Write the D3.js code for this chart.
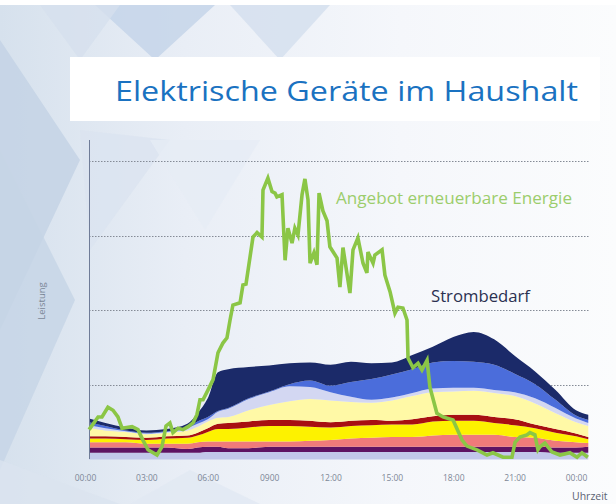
<!DOCTYPE html>
<meta charset="utf-8">
<style>
  body { margin: 0; background: #f3f6fa; overflow: hidden; }
  svg { display: block; font-family: "Open Sans", sans-serif; }
  .grid line { stroke: #858b96; stroke-dasharray: 1.5,1.5; }
  .xaxis text { fill: #7d8797; font-size: 8.5px; }
</style>
<body>
<svg width="616" height="504"></svg>
<script src="https://d3js.org/d3.v7.min.js"></script>
<script>
// Stunden (x) fuer die gestapelten Verbraucher
const hours = [0.2, 1, 2, 3, 4, 5, 5.5, 6, 6.5, 7, 8, 9, 10, 11, 12, 13, 14, 15, 16, 17, 18, 19, 20, 21, 22, 23, 24, 24.6];

// Strombedarf je Schicht (W), von unten nach oben
const standby     = [9, 9, 9, 9, 9, 9, 9, 10, 10, 10, 10, 10, 10, 10, 10, 10, 10, 10, 10, 10, 10, 10, 10, 10, 10, 9, 9, 9];
const kuehlen     = [7, 7, 7, 7, 7, 5, 7, 7, 7, 5, 5, 7, 7, 7, 7, 7, 7, 7, 7, 7, 7, 7, 7, 7, 7, 7, 7, 8];
const waschen     = [7, 7, 7, 5, 5, 7, 7, 7, 7, 9, 9, 7, 7, 8, 9, 11, 12, 13, 13, 15, 16, 16, 16, 13, 12, 9, 7, 5];
const kochen      = [5, 5, 4, 5, 7, 8, 9, 13, 17, 17, 19, 21, 21, 19, 17, 17, 17, 17, 17, 19, 19, 19, 16, 16, 13, 11, 8, 5];
const spuelen     = [3, 3, 3, 3, 3, 3, 4, 5, 7, 8, 8, 8, 8, 8, 7, 7, 7, 5, 7, 7, 8, 8, 8, 8, 5, 5, 4, 3];
const beleuchtung = [12, 8, 7, 5, 5, 7, 8, 9, 8, 8, 15, 20, 25, 29, 29, 25, 23, 27, 31, 32, 31, 32, 32, 31, 28, 21, 15, 15];
const warmwasser  = [3, 3, 1, 1, 1, 3, 4, 3, 8, 11, 15, 17, 20, 16, 11, 7, 4, 4, 4, 5, 5, 4, 4, 5, 7, 7, 5, 4];
const unterhaltung= [4, 3, 1, 1, 1, 1, 3, 3, 1, 1, 1, 1, 3, 9, 9, 20, 28, 31, 32, 35, 36, 35, 34, 25, 19, 11, 4, 4];
const sonstiges   = [5, 4, 4, 3, 3, 5, 11, 25, 52, 52, 42, 35, 28, 24, 28, 27, 21, 16, 19, 21, 32, 40, 34, 24, 17, 13, 7, 7];

const layerKeys = ["standby", "kuehlen", "waschen", "kochen", "spuelen", "beleuchtung", "warmwasser", "unterhaltung", "sonstiges"];
const layerColors = ["#c2c7ea", "#5e1263", "#f07a7a", "#fdf200", "#a80f12", "#fff9a6", "#d3d7f2", "#4b6ddb", "#1b2a69"];

// Angebot erneuerbare Energie: [Stunde, W]
const renewHours = [0.20, 0.64, 0.83, 1.12, 1.37, 1.61, 1.81, 2.30, 2.59, 2.83, 3.08, 3.52, 3.76, 3.96, 4.15, 4.30, 4.55, 4.79, 5.04, 5.28, 5.47, 5.62, 5.77, 6.01, 6.26, 6.50, 6.74, 6.94, 7.09, 7.23, 7.58, 7.72, 7.87, 8.21, 8.41, 8.65, 8.70, 8.94, 9.14, 9.29, 9.38, 9.63, 9.78, 9.92, 10.12, 10.26, 10.41, 10.61, 10.75, 10.90, 11.00, 11.19, 11.34, 11.44, 11.63, 11.83, 11.97, 12.32, 12.46, 12.61, 12.95, 13.10, 13.34, 13.59, 13.78, 13.83, 14.08, 14.17, 14.52, 14.66, 14.91, 15.15, 15.30, 15.54, 15.74, 15.79, 16.03, 16.28, 16.47, 16.72, 16.86, 17.20, 17.50, 17.99, 18.43, 18.67, 19.16, 19.65, 19.94, 20.43, 20.87, 21.02, 21.26, 21.60, 21.75, 21.99, 22.14, 22.24, 22.48, 22.83, 23.22, 23.70, 24.05, 24.29, 24.58];
const renewValues = [40, 57, 57, 70, 66, 57, 42, 44, 40, 26, 13, 6, 17, 45, 49, 36, 42, 40, 44, 49, 60, 80, 80, 93, 107, 143, 156, 163, 187, 207, 210, 234, 235, 298, 304, 298, 361, 377, 359, 357, 352, 355, 267, 310, 290, 310, 301, 355, 376, 348, 263, 277, 261, 357, 333, 320, 285, 270, 231, 284, 223, 281, 297, 263, 250, 278, 263, 274, 281, 247, 225, 196, 204, 203, 187, 136, 123, 129, 120, 133, 97, 62, 57, 53, 26, 18, 13, 6, 9, 3, 3, 23, 30, 33, 36, 33, 13, 17, 22, 10, 6, 9, 3, 9, 3];

const tickHours = [0, 3, 6, 9, 12, 15, 18, 21, 24];
const tickLabels = ["00:00", "03:00", "06:00", "0900", "12:00", "15:00", "18:00", "21:00", "00:00"];
const gridValues = [100, 200, 300, 400];

const svg = d3.select("svg");

// Hintergrund: Verlauf + Rautenmuster
const grad = svg.append("defs").append("linearGradient").attr("id", "bgGrad")
  .attr("x1", 0).attr("x2", 1).attr("y1", 0).attr("y2", 0);
grad.append("stop").attr("offset", 0).attr("stop-color", "#d6e1ed");
grad.append("stop").attr("offset", 0.3).attr("stop-color", "#e9eef6");
grad.append("stop").attr("offset", 0.65).attr("stop-color", "#f5f7fb");
grad.append("stop").attr("offset", 1).attr("stop-color", "#fbfcfd");

const bg = svg.append("g");
bg.append("rect").attr("width", 616).attr("height", 504).attr("fill", "url(#bgGrad)");
const shapes = [
  [[0,40],[80,160],[0,330]],
  [[0,150],[75,300],[0,470]],
  [[95,5],[215,5],[155,60]],
  [[230,5],[330,5],[280,60]],
  [[40,5],[120,5],[80,60]],
  [[80,130],[170,140],[90,250]],
  [[0,460],[120,504],[0,504]],
  [[190,470],[260,504],[130,504]],
  [[150,140],[260,140],[205,230]]
];
const shapeFill = ["#c3d2e5", "#c6d4e6", "#c3d3e8", "#d3dfed", "#d6e0ee", "#dbe4f0", "#dbe4ef", "#e1e8f2", "#e6ecf5"];
bg.selectAll("polygon").data(shapes).join("polygon")
  .attr("points", d => d.map(p => p.join(",")).join(" "))
  .attr("fill", (d, i) => shapeFill[i])
  .attr("opacity", 0.8);
bg.append("rect").attr("width", 616).attr("height", 5).attr("fill", "#ffffff");

// Titelbox
svg.append("rect").attr("x", 70).attr("y", 57).attr("width", 530).attr("height", 64).attr("fill", "#ffffff");
svg.append("text").attr("x", 115).attr("y", 101)
  .attr("font-size", 28).attr("fill", "#1a72c1")
  .attr("textLength", 463).attr("lengthAdjust", "spacingAndGlyphs")
  .text("Elektrische Geräte im Haushalt");

const x = d3.scaleLinear().domain([0, 24]).range([85, 576]);
const y = d3.scaleLinear().domain([0, 400]).range([459.5, 161]);

// Gitterlinien
svg.append("g").attr("class", "grid")
  .selectAll("line").data(gridValues).join("line")
  .attr("x1", 89).attr("x2", 590)
  .attr("y1", d => Math.round(y(d)) + 0.5).attr("y2", d => Math.round(y(d)) + 0.5);

// gestapelte Flaechen
const rows = hours.map((h, i) => ({
  h: h,
  standby: standby[i], kuehlen: kuehlen[i], waschen: waschen[i], kochen: kochen[i],
  spuelen: spuelen[i], beleuchtung: beleuchtung[i], warmwasser: warmwasser[i],
  unterhaltung: unterhaltung[i], sonstiges: sonstiges[i]
}));
const series = d3.stack().keys(layerKeys)(rows);
const area = d3.area()
  .x(d => x(d.data.h))
  .y0(d => y(d[0]))
  .y1(d => y(d[1]))
  .curve(d3.curveMonotoneX);
svg.append("g").selectAll("path").data(series).join("path")
  .attr("d", area)
  .attr("fill", (d, i) => layerColors[i]);

// y-Achse
svg.append("line").attr("x1", 89.5).attr("x2", 89.5).attr("y1", 140).attr("y2", 459)
  .attr("stroke", "#6f7c98").attr("stroke-width", 1);

// Angebot erneuerbare Energie
const line = d3.line().x((d, i) => x(renewHours[i])).y(d => y(d));
svg.append("path").datum(renewValues)
  .attr("d", line)
  .attr("fill", "none")
  .attr("stroke", "#8bc646")
  .attr("stroke-width", 3.6)
  .attr("stroke-linejoin", "miter");

// x-Achse
const xAxis = d3.axisBottom(x).tickValues(tickHours).tickSize(0)
  .tickFormat((d, i) => tickLabels[i]);
svg.append("g").attr("class", "xaxis")
  .attr("transform", "translate(0,472)")
  .call(xAxis)
  .call(g => g.select(".domain").remove())
  .selectAll("text").attr("font-family", "Open Sans");

// Beschriftungen
svg.append("text").attr("transform", "translate(45,301) rotate(-90)")
  .attr("text-anchor", "middle").attr("font-size", 9.5).attr("fill", "#7a8797")
  .text("Leistung");
svg.append("text").attr("x", 572).attr("y", 500)
  .attr("font-size", 10.5).attr("fill", "#5a6272")
  .text("Uhrzeit");
svg.append("text").attr("x", 336).attr("y", 204)
  .attr("font-size", 17).attr("fill", "#9ccd6c")
  .attr("textLength", 236).attr("lengthAdjust", "spacingAndGlyphs")
  .text("Angebot erneuerbare Energie");
svg.append("text").attr("x", 431).attr("y", 302)
  .attr("font-size", 17).attr("fill", "#2b3050")
  .attr("textLength", 99).attr("lengthAdjust", "spacingAndGlyphs")
  .text("Strombedarf");
</script>
</body>
